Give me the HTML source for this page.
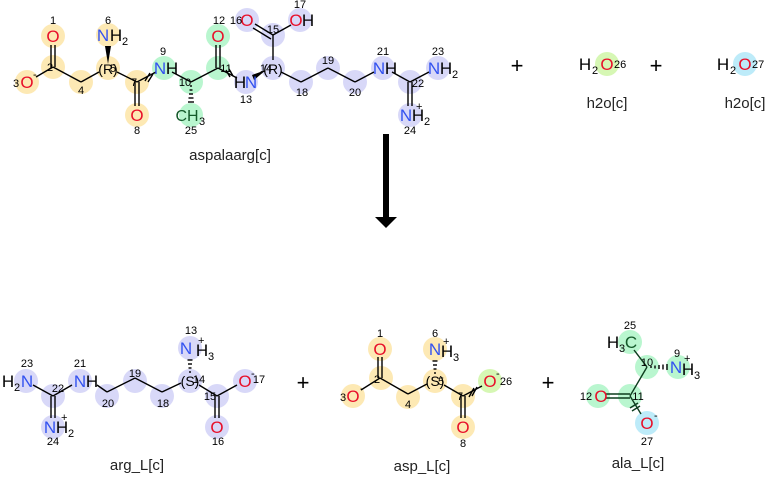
<!DOCTYPE html>
<html><head><meta charset="utf-8"><style>
html,body{margin:0;padding:0;background:#fff;}
svg{display:block;font-family:"Liberation Sans","DejaVu Sans",sans-serif;}
.b{stroke:#000;stroke-width:1.4;fill:none;}
.y{fill:#fde9b4;} .g{fill:#b9f6cf;} .p{fill:#d8d8f8;} .lg{fill:#d6f7b4;} .c{fill:#bdebf9;}
.a{font-size:17px;text-anchor:middle;}
.O{fill:#e8102a;} .N{fill:#3352f0;} .k{fill:#000;}
.n{font-size:11px;text-anchor:middle;fill:#000;}
.s{font-size:11px;}
.t{font-size:15px;text-anchor:middle;fill:#222;}
</style></head><body>
<svg width="770" height="478" viewBox="0 0 770 478" xmlns="http://www.w3.org/2000/svg">
<g>
<circle class="y" cx="53" cy="36" r="12"/><circle class="y" cx="53" cy="67" r="12"/><circle class="y" cx="27" cy="82" r="12"/>
<circle class="y" cx="81" cy="82" r="12"/><circle class="y" cx="108" cy="68" r="12"/><circle class="y" cx="108" cy="35" r="12"/>
<circle class="y" cx="137" cy="82" r="12"/><circle class="y" cx="137" cy="115" r="12"/>
<circle class="g" cx="164" cy="68" r="12"/><circle class="g" cx="191" cy="82" r="12"/><circle class="g" cx="191" cy="115" r="12"/>
<circle class="g" cx="218" cy="68" r="12"/><circle class="g" cx="218" cy="36" r="12"/>
<circle class="p" cx="246" cy="82" r="12"/><circle class="p" cx="273" cy="68" r="12"/><circle class="p" cx="273" cy="35" r="12"/>
<circle class="p" cx="247" cy="20" r="12"/><circle class="p" cx="300" cy="20" r="12"/>
<circle class="p" cx="301" cy="82" r="12"/><circle class="p" cx="328" cy="68" r="12"/><circle class="p" cx="355" cy="82" r="12"/>
<circle class="p" cx="383" cy="68" r="12"/><circle class="p" cx="410" cy="82" r="12"/><circle class="p" cx="438" cy="68" r="12"/>
<circle class="p" cx="410" cy="115" r="12"/>
</g>
<g class="b">
<line x1="51" y1="45" x2="51" y2="67"/><line x1="55" y1="45" x2="55" y2="67"/>
<line x1="53" y1="67" x2="36" y2="77"/><line x1="53" y1="67" x2="81" y2="82"/>
<line x1="81" y1="82" x2="99" y2="72"/><line x1="117" y1="72" x2="137" y2="82"/>
<line x1="135" y1="82" x2="135" y2="106"/><line x1="139" y1="82" x2="139" y2="106"/>
<line x1="137" y1="82" x2="156" y2="72"/><line x1="172" y1="72" x2="191" y2="82"/>
<line x1="191" y1="82" x2="218" y2="68"/>
<line x1="216" y1="68" x2="216" y2="45"/><line x1="220" y1="68" x2="220" y2="45"/>
<line x1="218" y1="68" x2="237" y2="78"/>
<line x1="273" y1="60" x2="273" y2="35"/>
<line x1="273" y1="35" x2="255" y2="24"/><line x1="271" y1="39" x2="253" y2="28"/>
<line x1="273" y1="35" x2="291" y2="25"/>
<line x1="281" y1="72" x2="301" y2="82"/><line x1="301" y1="82" x2="328" y2="68"/><line x1="328" y1="68" x2="355" y2="82"/>
<line x1="355" y1="82" x2="374" y2="72"/><line x1="392" y1="72" x2="410" y2="82"/><line x1="410" y1="82" x2="429" y2="72"/>
<line x1="408" y1="82" x2="408" y2="106"/><line x1="412" y1="82" x2="412" y2="106"/>
<line x1="145" y1="81" x2="150" y2="73" /><line x1="148" y1="82" x2="153" y2="74"/>
<line x1="226" y1="70" x2="230" y2="77"/><line x1="229" y1="69" x2="233" y2="76"/>
</g>
<polygon points="108,64 105,46 111,46" fill="#000"/>
<polygon points="266,70 252,75 254,80" fill="#000"/>
<g class="b" stroke-width="1.2">
<line x1="190" y1="86" x2="192" y2="86"/><line x1="189.5" y1="90" x2="192.5" y2="90"/><line x1="189" y1="94" x2="193" y2="94"/>
<line x1="188.5" y1="98" x2="193.5" y2="98"/><line x1="188" y1="102" x2="194" y2="102"/>
</g>
<text class="a O" x="53" y="42">O</text>
<text class="a O" x="27" y="88">O</text><text class="s" x="33" y="78">-</text>
<text class="a N" x="103" y="41">N</text><text class="a k" x="116" y="41">H</text><text class="s" x="122" y="45">2</text>
<text class="a k" x="108" y="74" style="font-size:14px">(R)</text>
<text class="a O" x="137" y="121">O</text>
<text class="a N" x="160" y="74">N</text><text class="a k" x="172" y="74">H</text>
<text class="a k" x="187" y="121" style="font-size:16px;fill:#145a2a">CH</text><text class="s" x="199" y="125">3</text>
<text class="a O" x="218" y="42">O</text>
<text class="a k" x="240" y="88">H</text><text class="a N" x="251" y="88">N</text>
<text class="a k" x="273" y="74" style="font-size:14px">(R)</text>
<text class="a O" x="247" y="26">O</text>
<text class="a O" x="296" y="26">O</text><text class="a k" x="308" y="26">H</text>
<text class="a N" x="379" y="74">N</text><text class="a k" x="391" y="74">H</text>
<text class="a N" x="434" y="74">N</text><text class="a k" x="446" y="74">H</text><text class="s" x="452" y="78">2</text>
<text class="a N" x="406" y="121">N</text><text class="a k" x="418" y="121">H</text><text class="s" x="424" y="125">2</text><text class="s" x="416" y="110">+</text>
<text class="n" x="53" y="24">1</text><text class="n" x="50" y="71">2</text><text class="n" x="16" y="87">3</text>
<text class="n" x="81" y="94">4</text><text class="n" x="113" y="72">5</text><text class="n" x="108" y="24">6</text>
<text class="n" x="134" y="86">7</text><text class="n" x="137" y="134">8</text><text class="n" x="163" y="55">9</text>
<text class="n" x="185" y="86">10</text><text class="n" x="226" y="72">11</text><text class="n" x="219" y="24">12</text>
<text class="n" x="246" y="103">13</text><text class="n" x="266" y="72">14</text><text class="n" x="273" y="33">15</text>
<text class="n" x="236" y="24">16</text><text class="n" x="300" y="8">17</text><text class="n" x="302" y="96">18</text>
<text class="n" x="328" y="64">19</text><text class="n" x="355" y="96">20</text><text class="n" x="383" y="55">21</text>
<text class="n" x="418" y="87">22</text><text class="n" x="438" y="55">23</text><text class="n" x="410" y="134">24</text>
<text class="n" x="191" y="134">25</text>
<text class="t" x="230" y="160">aspalaarg[c]</text>

<text x="517" y="73" style="font-size:22px;text-anchor:middle">+</text>
<text x="656" y="73" style="font-size:22px;text-anchor:middle">+</text>
<circle class="lg" cx="607" cy="64" r="12"/><circle class="c" cx="745" cy="64" r="12"/>
<text class="a k" x="585" y="70">H</text><text class="s" x="592" y="74">2</text><text class="a O" x="607" y="70">O</text><text class="s" x="614" y="68">26</text>
<text class="a k" x="723" y="70">H</text><text class="s" x="730" y="74">2</text><text class="a O" x="745" y="70">O</text><text class="s" x="752" y="68">27</text>
<text class="t" x="607" y="108">h2o[c]</text><text class="t" x="745" y="108">h2o[c]</text>

<rect x="383" y="134" width="6" height="86" fill="#000"/>
<polygon points="375,217 397,217 386,228" fill="#000"/>

<g class="p">
<circle cx="26" cy="381" r="12"/><circle cx="53" cy="396" r="12"/><circle cx="53" cy="427" r="12"/>
<circle cx="80" cy="381" r="12"/><circle cx="107" cy="396" r="12"/><circle cx="135" cy="381" r="12"/>
<circle cx="162" cy="396" r="12"/><circle cx="190" cy="381" r="12"/><circle cx="190" cy="348" r="12"/>
<circle cx="217" cy="396" r="12"/><circle cx="217" cy="427" r="12"/><circle cx="245" cy="381" r="12"/>
</g>
<g class="b">
<line x1="33" y1="385" x2="53" y2="396"/><line x1="53" y1="396" x2="72" y2="385"/>
<line x1="51" y1="396" x2="51" y2="418"/><line x1="55" y1="396" x2="55" y2="418"/>
<line x1="97" y1="385" x2="107" y2="392"/><line x1="107" y1="392" x2="135" y2="378"/><line x1="135" y1="378" x2="162" y2="392"/>
<line x1="162" y1="392" x2="181" y2="383"/><line x1="199" y1="385" x2="217" y2="396"/>
<line x1="215" y1="396" x2="215" y2="418"/><line x1="219" y1="396" x2="219" y2="418"/>
<line x1="217" y1="396" x2="237" y2="385"/>
</g>
<g class="b" stroke-width="1.2">
<line x1="189" y1="372" x2="191" y2="372"/><line x1="188.5" y1="368" x2="191.5" y2="368"/><line x1="188" y1="364" x2="192" y2="364"/><line x1="187.5" y1="360" x2="192.5" y2="360"/>
</g>
<text class="a k" x="8" y="387">H</text><text class="s" x="14" y="391">2</text><text class="a N" x="27" y="387">N</text>
<text class="a N" x="80" y="387">N</text><text class="a k" x="92" y="387">H</text>
<text class="a N" x="50" y="433">N</text><text class="a k" x="62" y="433">H</text><text class="s" x="68" y="437">2</text><text class="s" x="61" y="421">+</text>
<text class="a k" x="190" y="386" style="font-size:14px">(S)</text>
<text class="a N" x="186" y="354">N</text><text class="a k" x="202" y="356">H</text><text class="s" x="208" y="360">3</text><text class="s" x="198" y="344">+</text>
<text class="a O" x="217" y="433">O</text>
<text class="a O" x="245" y="387">O</text><text class="s" x="251" y="377">-</text>
<text class="n" x="27" y="367">23</text><text class="n" x="58" y="392">22</text><text class="n" x="53" y="445">24</text>
<text class="n" x="80" y="367">21</text><text class="n" x="108" y="407">20</text><text class="n" x="135" y="377">19</text>
<text class="n" x="163" y="407">18</text><text class="n" x="199" y="383">14</text><text class="n" x="191" y="334">13</text>
<text class="n" x="210" y="400">15</text><text class="n" x="218" y="445">16</text><text class="n" x="259" y="383">17</text>
<text class="t" x="137" y="470">arg_L[c]</text>
<text x="303" y="390" style="font-size:22px;text-anchor:middle">+</text>

<g class="y">
<circle cx="380" cy="349" r="12"/><circle cx="381" cy="378" r="12"/><circle cx="353" cy="396" r="12"/>
<circle cx="408" cy="397" r="12"/><circle cx="435" cy="381" r="12"/><circle cx="435" cy="349" r="12"/>
<circle cx="463" cy="396" r="12"/><circle cx="463" cy="427" r="12"/>
</g>
<circle class="lg" cx="490" cy="381" r="12"/>
<g class="b">
<line x1="378" y1="357" x2="378" y2="378"/><line x1="382" y1="357" x2="382" y2="378"/>
<line x1="380" y1="378" x2="361" y2="390"/><line x1="380" y1="378" x2="408" y2="394"/>
<line x1="408" y1="394" x2="427" y2="384"/><line x1="444" y1="385" x2="463" y2="396"/>
<line x1="461" y1="396" x2="461" y2="418"/><line x1="465" y1="396" x2="465" y2="418"/>
<line x1="463" y1="396" x2="482" y2="386"/>
<line x1="469" y1="397" x2="474" y2="388"/><line x1="472" y1="396" x2="477" y2="387"/>
</g>
<g class="b" stroke-width="1.2">
<line x1="434" y1="373" x2="436" y2="373"/><line x1="433.5" y1="369" x2="436.5" y2="369"/><line x1="433" y1="365" x2="437" y2="365"/><line x1="432.5" y1="361" x2="437.5" y2="361"/>
</g>
<text class="a O" x="380" y="355">O</text>
<text class="a O" x="353" y="402">O</text><text class="s" x="360" y="392">-</text>
<text class="a k" x="435" y="386" style="font-size:14px">(S)</text>
<text class="a N" x="435" y="355">N</text><text class="a k" x="447" y="357">H</text><text class="s" x="453" y="361">3</text><text class="s" x="443" y="345">+</text>
<text class="a O" x="463" y="433">O</text>
<text class="a O" x="490" y="387">O</text><text class="s" x="496" y="377">-</text>
<text class="n" x="380" y="337">1</text><text class="n" x="377" y="383">2</text><text class="n" x="343" y="401">3</text>
<text class="n" x="408" y="408">4</text><text class="n" x="441" y="385">5</text><text class="n" x="435" y="337">6</text>
<text class="n" x="460" y="400">7</text><text class="n" x="463" y="447">8</text><text class="n" x="506" y="385">26</text>
<text class="t" x="422" y="471">asp_L[c]</text>
<text x="548" y="390" style="font-size:22px;text-anchor:middle">+</text>

<g class="g">
<circle cx="630" cy="342" r="12"/><circle cx="647" cy="367" r="12"/><circle cx="678" cy="367" r="12"/>
<circle cx="630" cy="396" r="12"/><circle cx="598" cy="396" r="12"/>
</g>
<circle class="c" cx="647" cy="423" r="12"/>
<g class="b" style="stroke:#0d3d1e">
<line x1="634" y1="350" x2="647" y2="367"/><line x1="647" y1="367" x2="630" y2="396"/>
<line x1="606" y1="394" x2="630" y2="394"/><line x1="606" y1="398" x2="630" y2="398"/>
<line x1="630" y1="396" x2="641" y2="414"/>
<line x1="630" y1="408" x2="638" y2="403"/><line x1="632" y1="411" x2="640" y2="406"/>
</g>
<g class="b" stroke-width="1.2">
<line x1="651" y1="366" x2="651" y2="368"/><line x1="655" y1="365.5" x2="655" y2="368.5"/><line x1="659" y1="365" x2="659" y2="369"/>
<line x1="663" y1="364.5" x2="663" y2="369.5"/><line x1="667" y1="364" x2="667" y2="370"/>
</g>
<text class="a k" x="613" y="348">H</text><text class="s" x="619" y="352">3</text><text class="a" x="631" y="348" style="fill:#145a2a">C</text>
<text class="a N" x="676" y="373">N</text><text class="a k" x="688" y="375">H</text><text class="s" x="694" y="379">3</text><text class="s" x="684" y="362">+</text>
<text class="a O" x="601" y="402">O</text>
<text class="a O" x="647" y="429">O</text><text class="s" x="654" y="419">-</text>
<text class="n" x="630" y="329">25</text><text class="n" x="647" y="366">10</text><text class="n" x="677" y="357">9</text>
<text class="n" x="586" y="400">12</text><text class="n" x="638" y="400">11</text><text class="n" x="647" y="445">27</text>
<text class="t" x="638" y="468">ala_L[c]</text>
</svg>
</body></html>
